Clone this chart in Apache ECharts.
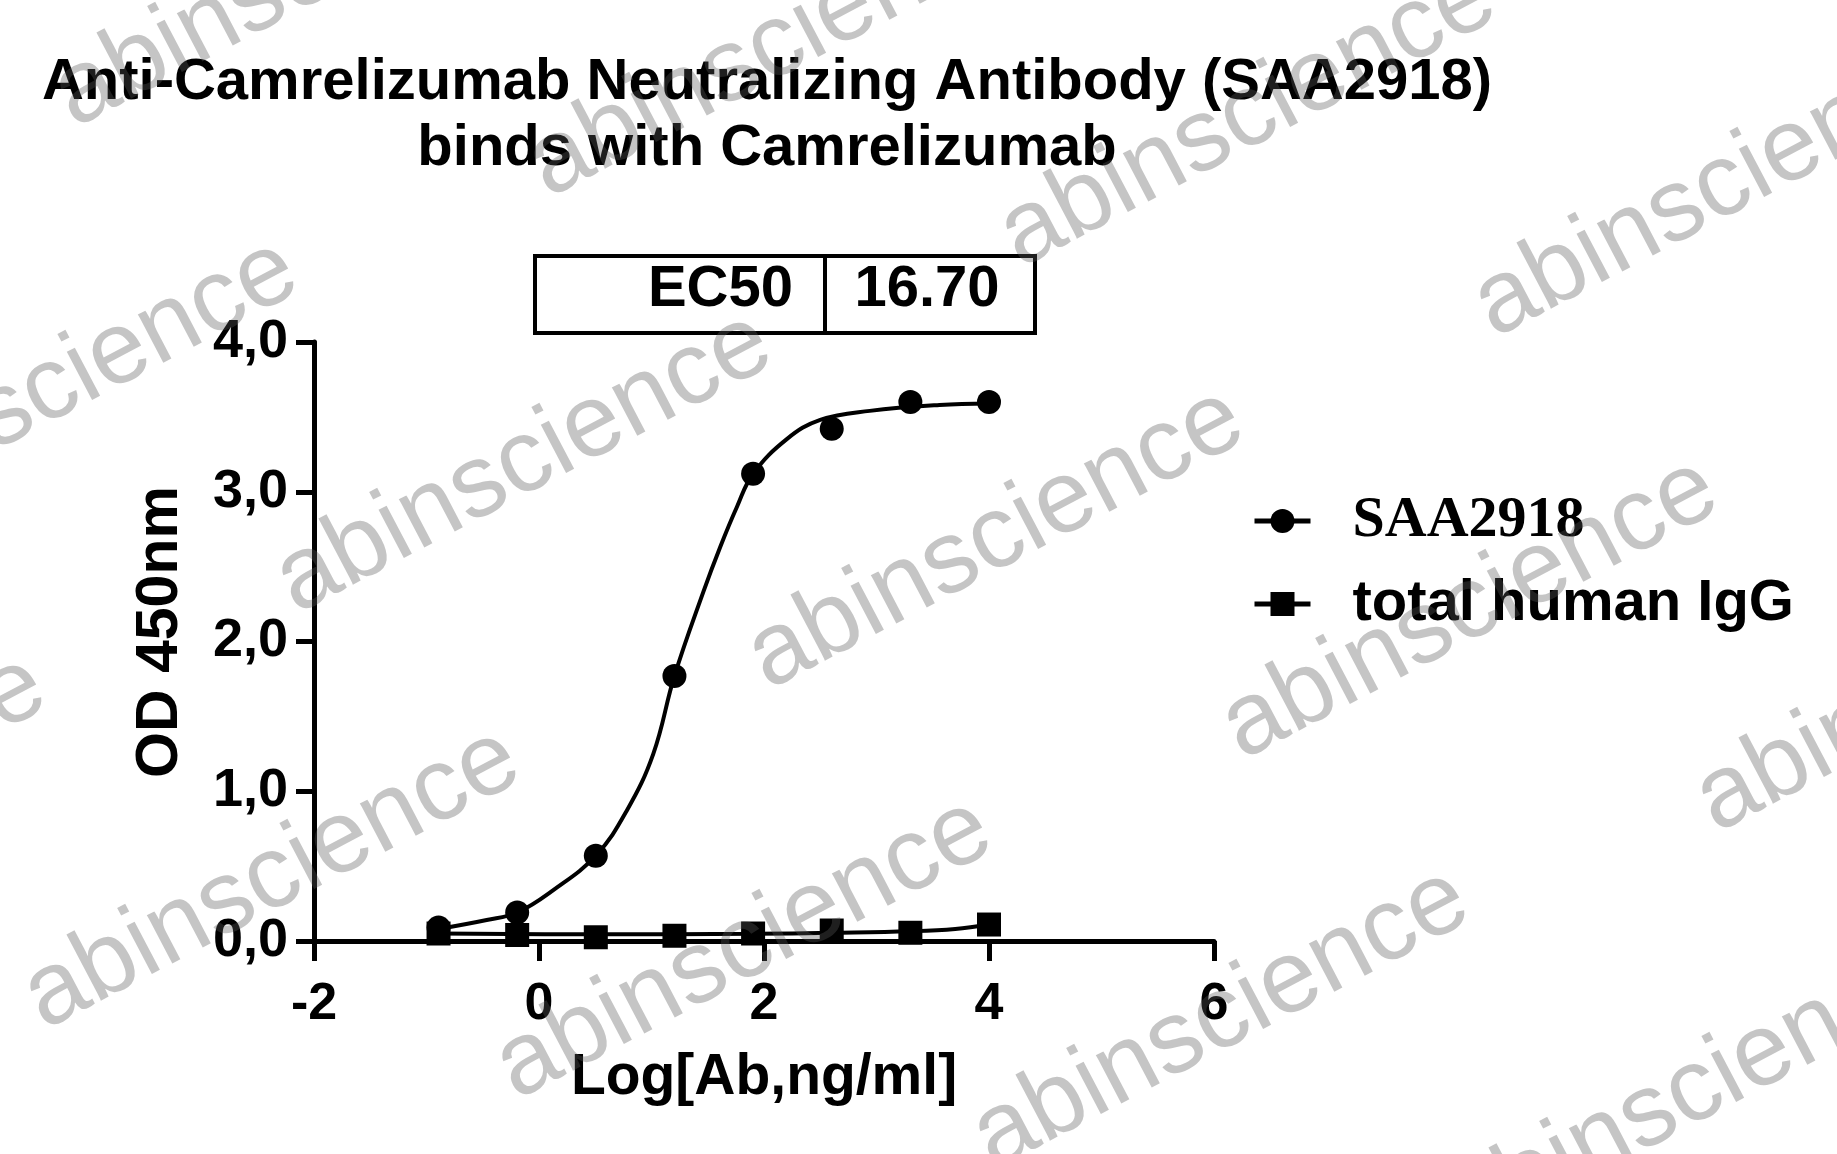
<!DOCTYPE html>
<html>
<head>
<meta charset="utf-8">
<title>Anti-Camrelizumab Neutralizing Antibody (SAA2918)</title>
<script src="https://cdn.jsdelivr.net/npm/echarts@6.0.0/dist/echarts.min.js"></script>
<style>
    html, body { margin: 0; padding: 0; background: #fff; }
    #main { width: 1837px; height: 1154px; }
</style>
</head>
<body>
<div id="main"></div>
<script>
// log10 of concentration (ng/ml), 1:5 dilutions from 10000
var logConc = [-0.893, -0.194, 0.505, 1.204, 1.903, 2.602, 3.301, 4.0];
var saaOD = [0.09, 0.19, 0.57, 1.77, 3.12, 3.42, 3.60, 3.60];
var iggOD = [0.05, 0.04, 0.025, 0.035, 0.05, 0.07, 0.055, 0.11];

// fitted curves
var saaFitX = [-0.893, -0.465, -0.194, 0.127, 0.505, 0.78, 1.016, 1.204, 1.46, 1.61, 1.76, 1.903, 2.2, 2.5, 2.94, 3.56, 4.0];
var saaFitY = [0.08, 0.14, 0.19, 0.34, 0.57, 0.87, 1.25, 1.77, 2.33, 2.63, 2.90, 3.12, 3.35, 3.48, 3.54, 3.58, 3.59];
var iggFitX = [-0.893, 0.505, 1.903, 2.602, 3.301, 3.7, 4.0];
var iggFitY = [0.05, 0.045, 0.048, 0.055, 0.065, 0.08, 0.11];

var xTicks = [-2, 6, 2];   // min, max, interval
var yTicks = [0, 4, 1];
var seriesNames = ['SAA2918', 'total human IgG'];
var ec50 = ['EC50', '16.70'];

function pairs(xs, ys) {
    return xs.map(function (x, i) { return [x, ys[i]]; });
}

var FONT = '"Liberation Sans", Arial, sans-serif';

// watermark centres
var marks = [
    [302, -23], [776, 47], [1248, 117], [1722, 187],
    [50, 390], [524, 463], [996, 539], [1470, 609], [1944, 682],
    [-202, 806], [272, 879], [744, 949], [1221, 1019], [1694, 1092]
];

var chart = echarts.init(document.getElementById('main'));

var graphics = [
    { type: 'rect', shape: { x: 535, y: 256, width: 500, height: 77 },
      style: { fill: 'none', stroke: '#000', lineWidth: 4 }, z: 10 },
    { type: 'line', shape: { x1: 825, y1: 256, x2: 825, y2: 333 },
      style: { stroke: '#000', lineWidth: 4 }, z: 11 },
    { type: 'text', x: 793, y: 290, z: 11,
      style: { text: ec50[0], font: 'bold 58px ' + FONT, fill: '#000', align: 'right', verticalAlign: 'middle' } },
    { type: 'text', x: 927, y: 290, z: 11,
      style: { text: ec50[1], font: 'bold 58px ' + FONT, fill: '#000', align: 'center', verticalAlign: 'middle' } }
];

marks.forEach(function (m) {
    graphics.push({
        type: 'text', x: m[0], y: m[1], rotation: 0.483, z: 100, silent: true,
        style: { text: 'abinscience', font: '103px ' + FONT, fill: 'rgba(88,88,88,0.35)', align: 'center', verticalAlign: 'middle' }
    });
});

chart.setOption({
    animation: false,
    backgroundColor: '#fff',
    title: {
        text: 'Anti-Camrelizumab Neutralizing Antibody (SAA2918)\nbinds with Camrelizumab',
        left: 762,
        top: 45,
        textAlign: 'center',
        textStyle: {
            fontFamily: FONT,
            fontWeight: 'bold',
            fontSize: 58,
            lineHeight: 66,
            color: '#000'
        }
    },
    legend: {
        orient: 'vertical',
        left: 1247,
        top: 486,
        itemWidth: 56,
        itemHeight: 30,
        itemGap: 23,
        lineStyle: { width: 5 },
        data: [
            { name: seriesNames[0], textStyle: { fontFamily: '"Liberation Serif", "Times New Roman", serif', fontSize: 58 } },
            { name: seriesNames[1] }
        ],
        textStyle: {
            fontFamily: FONT,
            fontWeight: 'bold',
            fontSize: 58,
            lineHeight: 60,
            color: '#000',
            padding: [0, 0, 0, 37]
        }
    },
    grid: {
        left: 314,
        right: 623,
        top: 342,
        bottom: 213,
        outerBoundsMode: 'none'
    },
    xAxis: {
        type: 'value',
        min: xTicks[0],
        max: xTicks[1],
        interval: xTicks[2],
        name: 'Log[Ab,ng/ml]',
        nameLocation: 'middle',
        nameGap: 109,
        nameTextStyle: { fontFamily: FONT, fontWeight: 'bold', fontSize: 57, color: '#000' },
        splitLine: { show: false },
        axisLine: { lineStyle: { color: '#000', width: 5 } },
        axisTick: { length: 20, lineStyle: { color: '#000', width: 5 } },
        axisLabel: { margin: 38, fontFamily: FONT, fontWeight: 'bold', fontSize: 52, color: '#000' }
    },
    yAxis: {
        type: 'value',
        min: yTicks[0],
        max: yTicks[1],
        interval: yTicks[2],
        name: 'OD 450nm',
        nameLocation: 'middle',
        nameGap: 124,
        nameTextStyle: { fontFamily: FONT, fontWeight: 'bold', fontSize: 59, color: '#000', padding: [0, 0, 0, 19] },
        splitLine: { show: false },
        axisLine: { show: true, onZero: false, lineStyle: { color: '#000', width: 5 } },
        axisTick: { show: true, length: 18, lineStyle: { color: '#000', width: 5 } },
        axisLabel: {
            margin: 26, fontFamily: FONT, fontWeight: 'bold', fontSize: 54, color: '#000',
            formatter: function (v) { return v.toFixed(1).replace('.', ','); }
        }
    },
    graphic: graphics,
    series: [
        {
            name: seriesNames[0],
            type: 'line',
            data: pairs(saaFitX, saaFitY),
            smooth: 0.4,
            symbol: 'circle',
            showSymbol: false,
            lineStyle: { color: '#000', width: 4 },
            itemStyle: { color: '#000' },
            z: 2
        },
        {
            name: seriesNames[0],
            type: 'scatter',
            data: pairs(logConc, saaOD),
            symbol: 'circle',
            symbolSize: 24,
            itemStyle: { color: '#000', opacity: 1 },
            z: 3
        },
        {
            name: seriesNames[1],
            type: 'line',
            data: pairs(iggFitX, iggFitY),
            smooth: 0.4,
            symbol: 'rect',
            showSymbol: false,
            lineStyle: { color: '#000', width: 4 },
            itemStyle: { color: '#000' },
            z: 2
        },
        {
            name: seriesNames[1],
            type: 'scatter',
            data: pairs(logConc, iggOD),
            symbol: 'rect',
            symbolSize: 24,
            itemStyle: { color: '#000', opacity: 1 },
            z: 3
        }
    ]
});
</script>
</body>
</html>
